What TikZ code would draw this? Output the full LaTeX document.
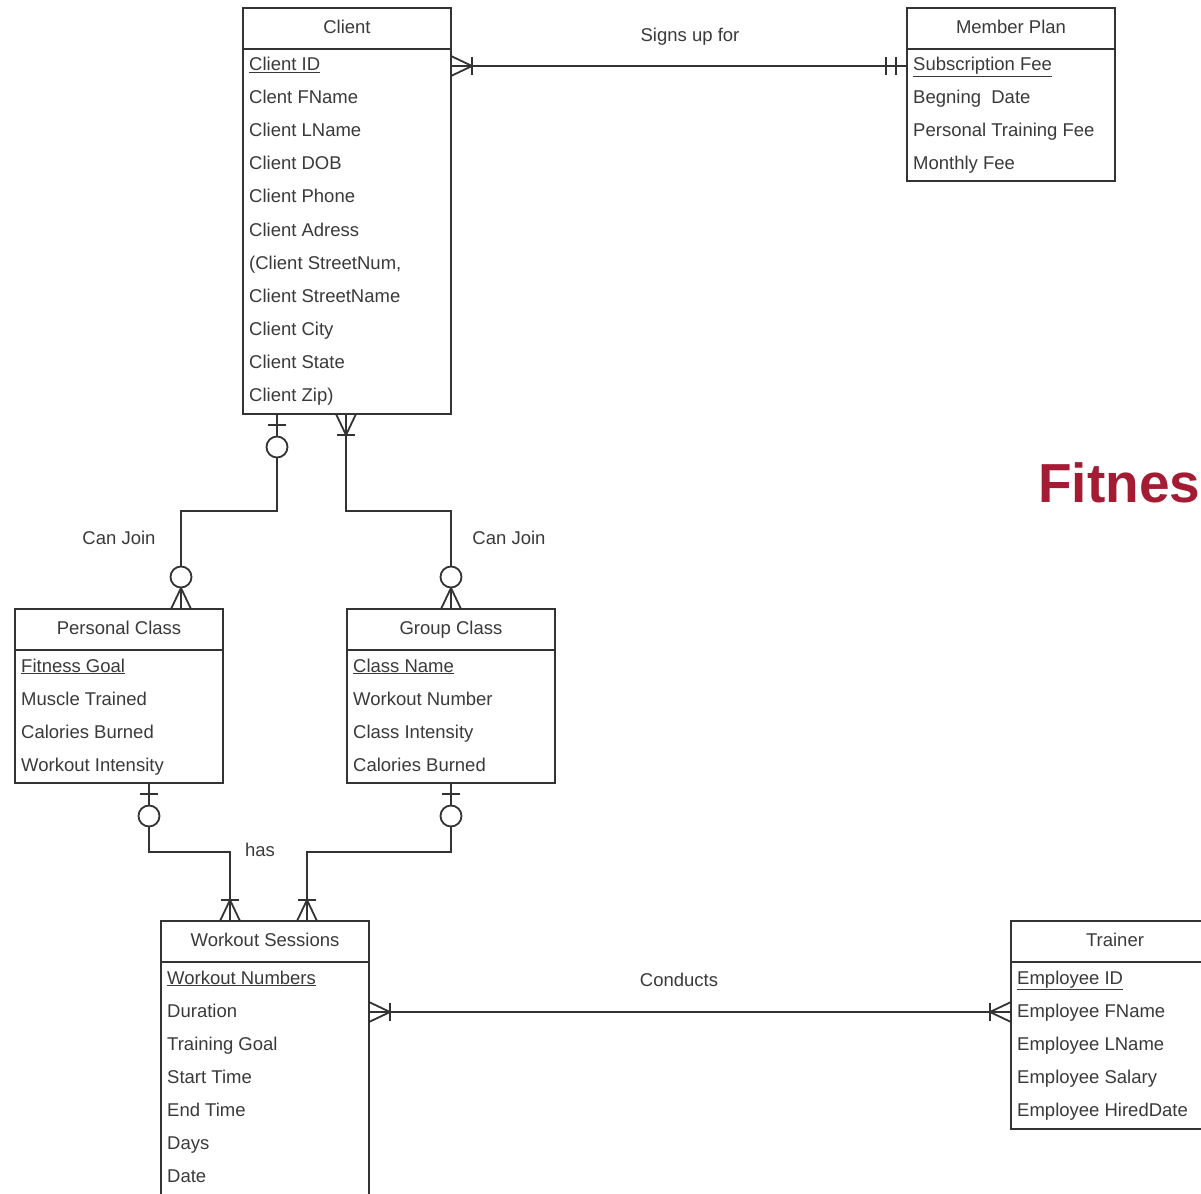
\documentclass[tikz,border=0pt]{standalone}
\usepackage{fontspec}
\setmainfont{Liberation Sans}
\usetikzlibrary{calc}

\definecolor{ink}{HTML}{3A3A3A}
\definecolor{edge}{HTML}{333333}
\definecolor{brand}{RGB}{163,28,52}

% one attribute row of an entity: name, entity, row index, text
\newcommand\attrrow[4]{%
  \node[attr] (#1) at ([xshift=6pt,yshift={-63pt-33pt*(#3)}]#2.north west) {#4};}
% entity box with its header rule and title: name, corner, height, title
\newcommand\entitybox[4]{%
  \node[entity, minimum height=#3] (#1) at (#2) {};
  \draw[erline] ([yshift=-41pt]#1.north west) -- ([yshift=-41pt]#1.north east);
  \node[title] (#1-t) at ([yshift=-25.5pt]#1.north) {#4};}

\tikzset{
  erline/.style={draw=edge, line width=1.8pt},
  entity/.style={erline, rectangle, anchor=north west, inner sep=0pt,
                 outer sep=0pt, minimum width=208pt},
  attr/.style={anchor=base west, inner sep=0pt, text=ink,
               font=\fontsize{18.5}{21}\selectfont},
  title/.style={anchor=base, inner sep=0pt, text=ink,
                font=\fontsize{18.5}{21}\selectfont},
  rel/.style={anchor=base, inner sep=0pt, text=ink,
              font=\fontsize{18.5}{21}\selectfont},
  % cardinality marks, drawn in a frame whose +x points away from the box
  pics/one-many/.style={code={
      \draw[erline, line join=miter] (0,-10)--(21,0)--(0,10);
      \draw[erline] (21,-9)--(21,9);}},
  pics/zero-many/.style={code={
      \draw[erline, line join=miter] (0,-10)--(21,0)--(0,10);
      \draw[erline, fill=white] (32,0) circle (10.5);}},
  pics/zero-one/.style={code={
      \draw[erline] (11,-9)--(11,9);
      \draw[erline, fill=white] (33,0) circle (10.5);}},
  pics/one-one/.style={code={
      \draw[erline] (11,-9)--(11,9);
      \draw[erline] (21,-9)--(21,9);}},
}

\begin{document}
\begin{tikzpicture}[x=1pt, y=1pt]
\useasboundingbox (0,0) rectangle (1201,-1193);
\fill[white] (0,0) rectangle (1201,-1193);
\clip (0,0) rectangle (1201,-1193);

% ---------- entities ----------
\entitybox{client}{243,-8}{406pt}{Client}
\attrrow{c0}{client}{0}{\underline{Client ID}}
\attrrow{c1}{client}{1}{Clent FName}
\attrrow{c2}{client}{2}{Client LName}
\attrrow{c3}{client}{3}{Client DOB}
\attrrow{c4}{client}{4}{Client Phone}
\attrrow{c5}{client}{5}{Client Adress}
\attrrow{c6}{client}{6}{(Client StreetNum,}
\attrrow{c7}{client}{7}{Client StreetName}
\attrrow{c8}{client}{8}{Client City}
\attrrow{c9}{client}{9}{Client State}
\attrrow{c10}{client}{10}{Client Zip)}

\entitybox{plan}{907,-8}{173pt}{Member Plan}
\attrrow{m0}{plan}{0}{\underline{Subscription Fee}}
\attrrow{m1}{plan}{1}{Begning\ \ Date}
\attrrow{m2}{plan}{2}{Personal Training Fee}
\attrrow{m3}{plan}{3}{Monthly Fee}

\entitybox{pclass}{15,-609}{174pt}{Personal Class}
\attrrow{p0}{pclass}{0}{\underline{Fitness Goal}}
\attrrow{p1}{pclass}{1}{Muscle Trained}
\attrrow{p2}{pclass}{2}{Calories Burned}
\attrrow{p3}{pclass}{3}{Workout Intensity}

\entitybox{gclass}{347,-609}{174pt}{Group Class}
\attrrow{g0}{gclass}{0}{\underline{Class Name}}
\attrrow{g1}{gclass}{1}{Workout Number}
\attrrow{g2}{gclass}{2}{Class Intensity}
\attrrow{g3}{gclass}{3}{Calories Burned}

\entitybox{workout}{161,-921}{300pt}{Workout Sessions}
\attrrow{w0}{workout}{0}{\underline{Workout Numbers}}
\attrrow{w1}{workout}{1}{Duration}
\attrrow{w2}{workout}{2}{Training Goal}
\attrrow{w3}{workout}{3}{Start Time}
\attrrow{w4}{workout}{4}{End Time}
\attrrow{w5}{workout}{5}{Days}
\attrrow{w6}{workout}{6}{Date}

\entitybox{trainer}{1011,-921}{208pt}{Trainer}
\attrrow{t0}{trainer}{0}{\underline{Employee ID}}
\attrrow{t1}{trainer}{1}{Employee FName}
\attrrow{t2}{trainer}{2}{Employee LName}
\attrrow{t3}{trainer}{3}{Employee Salary}
\attrrow{t4}{trainer}{4}{Employee HiredDate}

% ---------- relationships ----------
\draw[erline] ([yshift=-58pt]client.north east) -- ([yshift=-58pt]plan.north west);
\draw[erline] ([xshift=34pt]client.south west) -- ++(0,-97) -| ([xshift=166pt]pclass.north west);
\draw[erline] ([xshift=103pt]client.south west) -- ++(0,-97) -| (gclass.north);
\draw[erline] ([xshift=134pt]pclass.south west) -- ++(0,-69) -| ([xshift=69pt]workout.north west);
\draw[erline] (gclass.south) -- ++(0,-69) -| ([xshift=146pt]workout.north west);
\draw[erline] ([yshift=-91pt]workout.north east) -- ([yshift=-91pt]trainer.north west);

% cardinality marks
\pic at ([yshift=-58pt]client.north east) {one-many};
\pic[rotate=180] at ([yshift=-58pt]plan.north west) {one-one};
\pic[rotate=-90] at ([xshift=34pt]client.south west) {zero-one};
\pic[rotate=90] at ([xshift=166pt]pclass.north west) {zero-many};
\pic[rotate=-90] at ([xshift=103pt]client.south west) {one-many};
\pic[rotate=90] at (gclass.north) {zero-many};
\pic[rotate=-90] at ([xshift=134pt]pclass.south west) {zero-one};
\pic[rotate=-90] at (gclass.south) {zero-one};
\pic[rotate=90] at ([xshift=69pt]workout.north west) {one-many};
\pic[rotate=90] at ([xshift=146pt]workout.north west) {one-many};
\pic at ([yshift=-91pt]workout.north east) {one-many};
\pic[rotate=180] at ([yshift=-91pt]trainer.north west) {one-many};

% relationship names
\node[rel] (signs) at (690,-42) {Signs up for};
\node[rel] (join1) at (119,-544) {Can Join};
\node[rel] (join2) at (509,-544) {Can Join};
\node[rel] (has) at (260,-856) {has};
\node[rel] (conducts) at (679,-986) {Conducts};

% heading
\node[anchor=base west, inner sep=0pt, text=brand,
      font=\fontsize{55}{62}\selectfont\bfseries] (heading) at (1038,-502) {Fitnes};
\end{tikzpicture}
\end{document}
